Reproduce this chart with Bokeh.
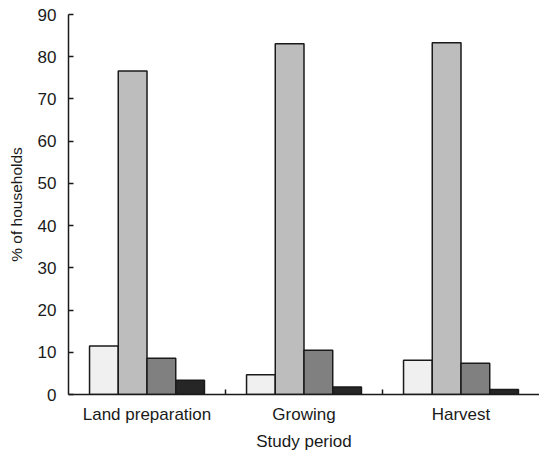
from bokeh.plotting import figure
from bokeh.models import ColumnDataSource, FixedTicker, Range1d
from bokeh.transform import dodge
from bokeh.embed import file_html
from bokeh.resources import INLINE

periods = ["Land preparation", "Growing", "Harvest"]
series1 = [11.5, 4.7, 8.1]
series2 = [76.6, 83.1, 83.3]
series3 = [8.6, 10.5, 7.4]
series4 = [3.4, 1.8, 1.2]
y_ticks = [0, 10, 20, 30, 40, 50, 60, 70, 80, 90]

centers = [i + 0.5 for i in range(len(periods))]
source = ColumnDataSource(dict(x=centers, s1=series1, s2=series2, s3=series3, s4=series4))

FONT = "Liberation Sans"
TXT = "#1a1a1a"

p = figure(width=539, height=453, output_backend="svg", toolbar_location=None,
           x_range=Range1d(0, 3), y_range=Range1d(0, 90),
           min_border_left=68, min_border_right=0, min_border_top=14, min_border_bottom=59)
p.outline_line_color = None
p.grid.visible = False
p.background_fill_color = "white"
p.border_fill_color = "white"

bw = 0.183
offsets = [-0.2745, -0.0915, 0.0915, 0.2745]
fills = ["#f0f0f0", "#bdbdbd", "#808080", "#262626"]
for col, off, fc in zip(["s1", "s2", "s3", "s4"], offsets, fills):
    p.vbar(x=dodge("x", off), top=col, width=bw, bottom=0, source=source,
           fill_color=fc, line_color="#1a1a1a", line_width=1.5)

# x axis
xa = p.xaxis[0]
xa.ticker = FixedTicker(ticks=centers, minor_ticks=[1, 2])
xa.major_label_overrides = {c: lab for c, lab in zip(centers, periods)}
xa.major_tick_in = 0
xa.major_tick_out = 0
xa.minor_tick_in = 5
xa.minor_tick_out = 0
xa.minor_tick_line_color = "#1a1a1a"
xa.minor_tick_line_width = 1.5
xa.axis_line_color = "#1a1a1a"
xa.axis_line_width = 1.5
xa.major_label_text_font = FONT
xa.major_label_text_font_size = "17px"
xa.major_label_text_color = TXT
xa.major_label_standoff = 10
xa.axis_label = "Study period"
xa.axis_label_text_font = FONT
xa.axis_label_text_font_size = "17px"
xa.axis_label_text_font_style = "normal"
xa.axis_label_text_color = TXT
xa.axis_label_standoff = 5

# y axis
ya = p.yaxis[0]
ya.ticker = FixedTicker(ticks=y_ticks, minor_ticks=[])
ya.major_tick_in = 5
ya.major_tick_out = 0
ya.major_tick_line_color = "#1a1a1a"
ya.major_tick_line_width = 1.5
ya.minor_tick_line_color = None
ya.axis_line_color = "#1a1a1a"
ya.axis_line_width = 1.5
ya.major_label_text_font = FONT
ya.major_label_text_font_size = "17px"
ya.major_label_text_color = TXT
ya.major_label_standoff = 12
ya.axis_label = "% of households"
ya.axis_label_text_font = FONT
ya.axis_label_text_font_size = "15.5px"
ya.axis_label_text_font_style = "normal"
ya.axis_label_text_color = TXT
ya.axis_label_standoff = 10

open("out.html", "w").write(file_html(p, INLINE))
